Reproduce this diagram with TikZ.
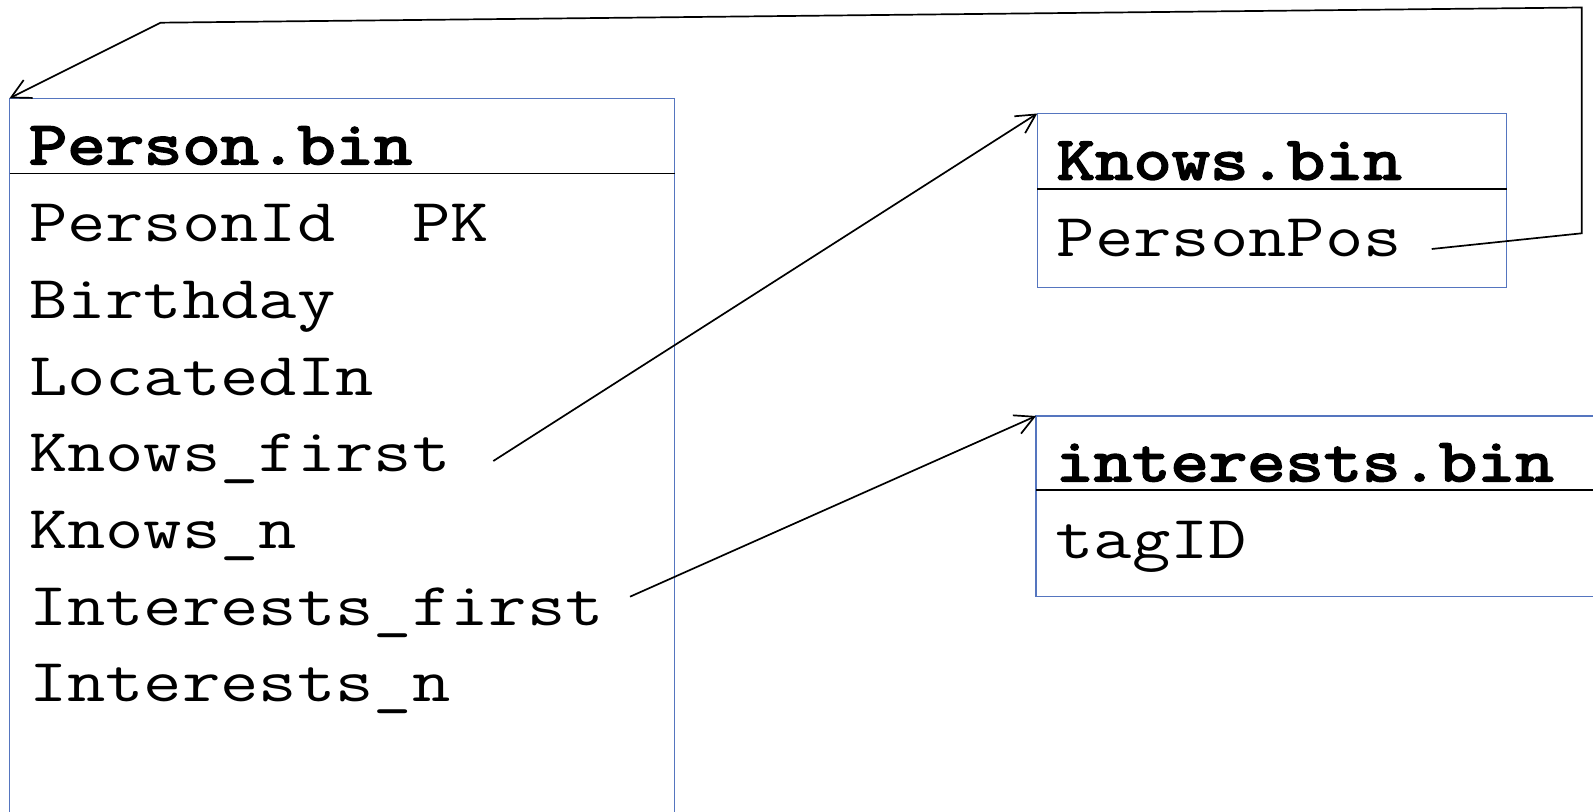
\documentclass[tikz,border=0pt]{standalone}
\usepackage{fontspec}
\newfontfamily\codefont[FakeStretch=1.22]{Latin Modern Mono}
\newfontfamily\codebold[FakeStretch=1.22,FakeBold=3.4]{Latin Modern Mono}
\usetikzlibrary{arrows.meta,calc}
\definecolor{boxblue}{HTML}{5575BF}
\begin{document}
\begin{tikzpicture}[x=0.5pt,y=-0.5pt,
  table/.style={draw=boxblue, line width=0.6pt, inner sep=0pt, outer sep=0pt, anchor=north west},
  field/.style={anchor=base west, inner sep=0pt, outer sep=0pt,
    font={\codefont\fontsize{30.5pt}{38pt}\selectfont}},
  title/.style={field, font={\codebold\fontsize{30.5pt}{38pt}\selectfont}},
  rule/.style={line width=0.65pt},
  link/.style={line width=0.85pt, -{Straight Barb[length=9.5pt,width=10pt]}}
]
\useasboundingbox (0,0) rectangle (1593,812);
\clip (0,0) rectangle (1593,812);

% table frames
\node[table, minimum width=332.5pt, minimum height=400pt] (person) at (9.5,98.3) {};
\node[table, minimum width=234.6pt, minimum height=86.9pt] (knows) at (1037.3,113.5) {};
\node[table, minimum width=332pt, minimum height=90.4pt] (interests) at (1036,416) {};

% header rules
\draw[rule] ($(person.north west)+(0,75)$) -- ($(person.north east)+(0,75)$);
\draw[rule] ($(knows.north west)+(0,75.5)$) -- ($(knows.north east)+(0,75.5)$);
\draw[rule] ($(interests.north west)+(0,74)$) -- ($(interests.north east)+(0,74)$);

% Person.bin
\node[title] (ptitle) at ($(person.north west)+(19.5,65.7)$) {Person.bin};
\node[field] (rowPid) at ($(person.north west)+(19.5,143.4)$) {PersonId\ \ PK};
\node[field] (rowBday) at ($(rowPid.base west)+(0,76.7)$) {Birthday};
\node[field] (rowLoc) at ($(rowBday.base west)+(0,76.7)$) {LocatedIn};
\node[field] (rowKf) at ($(rowLoc.base west)+(0,76.7)$) {Knows\_first};
\node[field] (rowKn) at ($(rowKf.base west)+(0,76.7)$) {Knows\_n};
\node[field] (rowIf) at ($(rowKn.base west)+(0,76.7)$) {Interests\_first};
\node[field] (rowIn) at ($(rowIf.base west)+(0,76.7)$) {Interests\_n};

% Knows.bin
\node[title] (ktitle) at ($(knows.north west)+(19.5,65.8)$) {Knows.bin};
\node[field] (rowPpos) at ($(knows.north west)+(19.5,143.2)$) {PersonPos};

% interests.bin
\node[title] (ititle) at ($(interests.north west)+(19.5,65)$) {interests.bin};
\node[field] (rowTag) at ($(interests.north west)+(19.5,142)$) {tagID};

% links
\coordinate (kfout) at (493.3,461);
\coordinate (ifout) at (630,596.7);
\coordinate (ppout) at (1431.7,249);
\coordinate (bendA) at (1581.7,233.3);
\coordinate (bendB) at (1581.7,7.5);
\coordinate (bendC) at (160.7,22.7);
\draw[link] (kfout) -- (knows.north west);
\draw[link] (ifout) -- (interests.north west);
\draw[link] (ppout) -- (bendA) -- (bendB) -- (bendC) -- (person.north west);
\end{tikzpicture}
\end{document}
